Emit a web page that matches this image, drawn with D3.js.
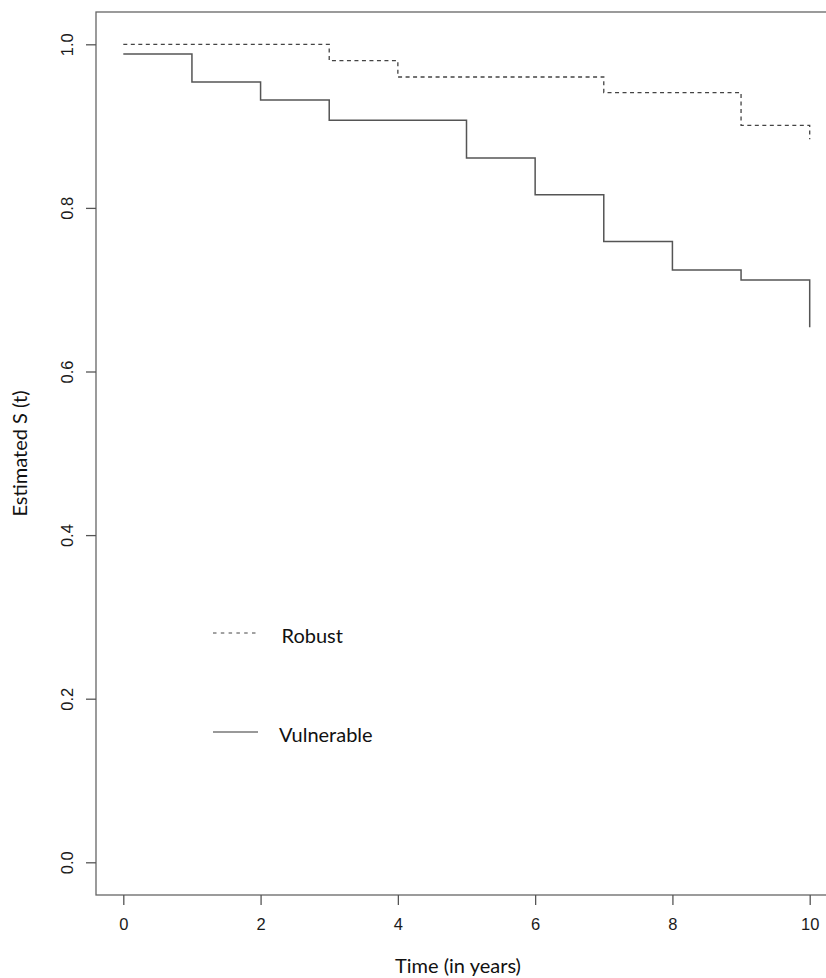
<!DOCTYPE html>
<html>
<head>
<meta charset="utf-8">
<script src="https://cdn.jsdelivr.net/npm/d3@7"></script>
<style>
  body { margin: 0; background: #fff; }
  .tick line { stroke: #555; }
  .lbl { font-family: Lato, "Open Sans", sans-serif; font-size: 20px; fill: #111; }
</style>
</head>
<body>
<svg id="chart" width="826" height="978"></svg>
<script>
// step points of each survival curve (time, S(t))
var robustTimes = [0, 3, 4, 7, 9, 10]
var robustSurv = [1.0, 0.98, 0.96, 0.941, 0.901, 0.884]
var vulnerableTimes = [0, 1, 2, 3, 5, 6, 7, 8, 9, 10]
var vulnerableSurv = [0.988, 0.954, 0.932, 0.907, 0.861, 0.816, 0.759, 0.724, 0.712, 0.654]
var xTicks = [0, 2, 4, 6, 8, 10]
var yTicks = [0, 0.2, 0.4, 0.6, 0.8, 1.0]
var seriesNames = ["Robust", "Vulnerable"]

var svg = d3.select("#chart")
var frame = {left: 96, top: 12, right: 827, bottom: 895}

var x = d3.scaleLinear().domain([0, 10]).range([123.3, 809.7])
var y = d3.scaleLinear().domain([0, 1]).range([862.3, 44.3])

svg.append("rect")
  .attr("x", frame.left).attr("y", frame.top)
  .attr("width", frame.right - frame.left).attr("height", frame.bottom - frame.top)
  .attr("fill", "none").attr("stroke", "#666").attr("stroke-width", 1.3)

var yAxis = svg.append("g")
  .attr("transform", "translate(" + frame.left + ",0)")
  .call(d3.axisLeft(y).tickValues(yTicks).tickSize(10).tickFormat(d3.format(".1f")))
yAxis.select(".domain").remove()
yAxis.selectAll(".tick line").attr("stroke-width", 1.3)
yAxis.selectAll(".tick text")
  .attr("x", 0).attr("dy", 0).attr("y", -23)
  .attr("transform", "rotate(-90)")
  .style("text-anchor", "middle")

var xAxis = svg.append("g")
  .attr("transform", "translate(0," + frame.bottom + ")")
  .call(d3.axisBottom(x).tickValues(xTicks).tickSize(10).tickFormat(d3.format("d")))
xAxis.select(".domain").remove()
xAxis.selectAll(".tick line").attr("stroke-width", 1.3)
xAxis.selectAll(".tick text").attr("y", 35).attr("dy", 0)

svg.selectAll(".tick text")
  .style("font-family", "'Liberation Sans', Arial, sans-serif")
  .style("font-size", "16.5px")
  .style("fill", "#1a1a1a")

var line = d3.line()
  .x(d => x(d[0]))
  .y(d => y(d[1]))
  .curve(d3.curveStepAfter)

var robust = robustTimes.map((t, i) => [t, robustSurv[i]])
var vulnerable = vulnerableTimes.map((t, i) => [t, vulnerableSurv[i]])

svg.append("path")
  .datum(robust)
  .attr("d", line)
  .attr("fill", "none").attr("stroke", "#444").attr("stroke-width", 1.3)
  .attr("stroke-dasharray", "4,3.5")

svg.append("path")
  .datum(vulnerable)
  .attr("d", line)
  .attr("fill", "none").attr("stroke", "#555").attr("stroke-width", 1.5)

// legend
var legend = svg.append("g")
legend.selectAll("line")
  .data(seriesNames)
  .enter()
  .append("line")
  .attr("x1", 213).attr("x2", 258)
  .attr("y1", (d, i) => i == 0 ? 633 : 732)
  .attr("y2", (d, i) => i == 0 ? 633 : 732)
  .attr("stroke", (d, i) => i == 0 ? "#444" : "#777")
  .attr("stroke-width", (d, i) => i == 0 ? 1 : 1.5)
  .attr("stroke-dasharray", (d, i) => i == 0 ? "3.5,4.3" : null)

legend.selectAll("text")
  .data(seriesNames)
  .enter()
  .append("text")
  .attr("class", "lbl")
  .attr("x", (d, i) => i == 0 ? 281.5 : 279)
  .attr("y", (d, i) => i == 0 ? 643 : 742)
  .text(d => d)

svg.append("text")
  .attr("class", "lbl")
  .attr("x", 458).attr("y", 972.5)
  .style("text-anchor", "middle")
  .text("Time (in years)")

svg.append("text")
  .attr("class", "lbl")
  .attr("transform", "translate(27,453.5) rotate(-90)")
  .style("text-anchor", "middle")
  .text("Estimated S (t)")
</script>
</body>
</html>
